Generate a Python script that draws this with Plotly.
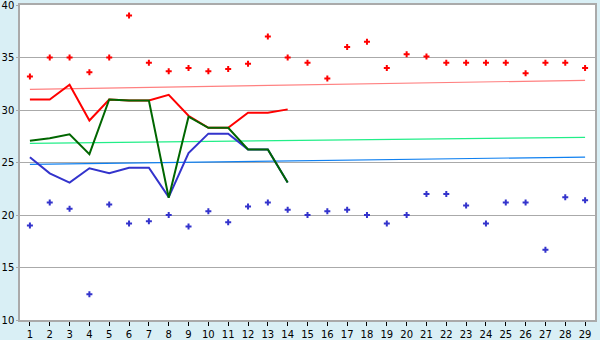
import plotly.graph_objects as go

days = list(range(1, 30))
tick_labels = [str(d) for d in days]

max_points = [33.2, 35.0, 35.0, 33.6, 35.0, 39.0, 34.5, 33.7, 34.0, 33.7,
              33.9, 34.4, 37.0, 35.0, 34.5, 33.0, 36.0, 36.5, 34.0, 35.3,
              35.1, 34.5, 34.5, 34.5, 34.5, 33.5, 34.5, 34.5, 34.0]
min_points = [19.0, 21.2, 20.6, 12.45, 21.0, 19.2, 19.4, 20.0, 18.9, 20.35,
              19.3, 20.8, 21.2, 20.5, 20.0, 20.35, 20.5, 20.0, 19.2, 20.0,
              22.0, 22.0, 20.9, 19.2, 21.2, 21.2, 16.7, 21.7, 21.4]

line_days = list(range(1, 15))
red_line = [31.0, 31.0, 32.4, 29.0, 31.0, 30.9, 30.9, 31.45, 29.45, 28.3,
            28.3, 29.75, 29.75, 30.06]
green_line = [27.08, 27.3, 27.68, 25.8, 31.0, 30.9, 30.9, 21.65, 29.36, 28.3,
              28.3, 26.25, 26.25, 23.1]
blue_line = [25.5, 23.97, 23.08, 24.45, 23.97, 24.5, 24.5, 21.7, 25.9, 27.75,
             27.75, 26.25, 26.25, 23.1]

trend_days = [1, 29]
trend_red = [31.97, 32.83]
trend_green = [26.83, 27.4]
trend_blue = [24.83, 25.52]

fig = go.Figure()

fig.add_trace(go.Scatter(x=trend_days, y=trend_red, mode="lines",
                         line=dict(color="#ff8080", width=1.2)))
fig.add_trace(go.Scatter(x=trend_days, y=trend_green, mode="lines",
                         line=dict(color="#22ee88", width=1.2)))
fig.add_trace(go.Scatter(x=trend_days, y=trend_blue, mode="lines",
                         line=dict(color="#1080f0", width=1.2)))

fig.add_trace(go.Scatter(x=line_days, y=blue_line, mode="lines",
                         line=dict(color="#3333cc", width=2)))
fig.add_trace(go.Scatter(x=line_days, y=red_line, mode="lines",
                         line=dict(color="#ff0000", width=2)))
fig.add_trace(go.Scatter(x=line_days, y=green_line, mode="lines",
                         line=dict(color="#006600", width=2)))

fig.add_trace(go.Scatter(x=days, y=max_points, mode="markers",
                         marker=dict(symbol="cross", size=5, color="#ff0000",
                                     line=dict(width=0))))
fig.add_trace(go.Scatter(x=days, y=min_points, mode="markers",
                         marker=dict(symbol="cross", size=5, color="#3333cc",
                                     line=dict(width=0))))

fig.update_layout(
    width=600, height=340,
    margin=dict(l=20, r=5, t=5, b=20),
    paper_bgcolor="#d9eff5",
    plot_bgcolor="#ffffff",
    showlegend=False,
    font=dict(family="DejaVu Sans", size=10, color="#000000"),
)
fig.update_xaxes(
    range=[0.5, 29.5], tickmode="array", tickvals=days, ticktext=tick_labels,
    showgrid=False, showline=True, linecolor="#aaaaaa", linewidth=1.5, mirror=True,
    ticks="outside", ticklen=4, tickcolor="#000000", zeroline=False,
    automargin=False, ticklabeloverflow="allow",
)
fig.update_yaxes(
    range=[10, 40], tickmode="array", tickvals=[10, 15, 20, 25, 30, 35, 40],
    showgrid=True, gridcolor="#aaaaaa", gridwidth=1,
    showline=True, linecolor="#aaaaaa", linewidth=1.5, mirror=True,
    ticks="outside", ticklen=2, tickcolor="#aaaaaa", zeroline=False,
    automargin=False, ticklabeloverflow="allow",
)

fig.write_html("out.html")
